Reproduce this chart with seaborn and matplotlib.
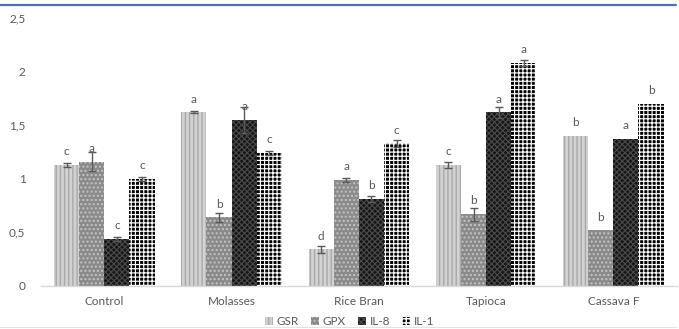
import matplotlib
matplotlib.use("Agg")
import matplotlib.pyplot as plt
import seaborn as sns
import pandas as pd
from matplotlib.patches import Patch
from matplotlib.lines import Line2D

categories = ["Control", "Molasses", "Rice Bran", "Tapioca", "Cassava F"]
series = ["GSR", "GPX", "IL-8", "IL-1"]
gsr = [1.13, 1.62, 0.34, 1.13, 1.40]
gpx = [1.16, 0.64, 0.99, 0.67, 0.52]
il8 = [0.44, 1.55, 0.81, 1.62, 1.37]
il1 = [1.00, 1.24, 1.33, 2.08, 1.70]
gsr_err = [0.02, 0.01, 0.03, 0.03, 0.0]
gpx_err = [0.09, 0.04, 0.02, 0.06, 0.0]
il8_err = [0.02, 0.12, 0.03, 0.05, 0.0]
il1_err = [0.02, 0.02, 0.03, 0.03, 0.0]
gsr_let = ["c", "a", "d", "c", "b"]
gpx_let = ["a", "b", "a", "b", "b"]
il8_let = ["c", "a", "b", "a", "a"]
il1_let = ["c", "c", "c", "a", "b"]
yticks = [0, 0.5, 1, 1.5, 2, 2.5]
ytick_labels = ["0", "0,5", "1", "1,5", "2", "2,5"]

values = [gsr, gpx, il8, il1]
errs = [gsr_err, gpx_err, il8_err, il1_err]
letters = [gsr_let, gpx_let, il8_let, il1_let]

rows = []
for s, vals in zip(series, values):
    for c, v in zip(categories, vals):
        rows.append({"cat": c, "series": s, "value": v})
df = pd.DataFrame(rows)

sns.set_theme(style="white")
plt.rcParams["font.family"] = ["Lato", "DejaVu Sans"]
plt.rcParams["hatch.linewidth"] = 1.0

styles = {
    "GSR": dict(fc="#d2d2d2", ec="#a9a9a9", hatch="||||", hlw=1.0),
    "GPX": dict(fc="#8a8a8a", ec="#c4c4c4", hatch="....", hlw=1.0),
    "IL-8": dict(fc="#161616", ec="#4a4a4a", hatch="xxxxxx", hlw=0.8),
    "IL-1": dict(fc="#000000", ec="#ffffff", hatch="++++", hlw=0.85),
}

fig = plt.figure(figsize=(6.79, 3.29), dpi=100)
ax = fig.add_axes([0.060, 0.131, 0.937, 0.814])

sns.barplot(data=df, x="cat", y="value", hue="series", order=categories,
            hue_order=series, width=0.79, ax=ax, legend=False,
            palette=["#d2d2d2"] * 4, errorbar=None)

txtc = "#595959"
for container, s, err, lets in zip(ax.containers, series, errs, letters):
    st = styles[s]
    xs, hs = [], []
    for p in container.patches:
        p.set_facecolor(st["fc"])
        p.set_edgecolor(st["ec"])
        p.set_hatch(st["hatch"])
        p.set_linewidth(0)
        try:
            p.set_hatch_linewidth(st["hlw"])
        except Exception:
            pass
        xs.append(p.get_x() + p.get_width() / 2)
        hs.append(p.get_height())
    ex = [x for x, e in zip(xs, err) if e > 0]
    eh = [h for h, e in zip(hs, err) if e > 0]
    ee = [e for e in err if e > 0]
    ax.errorbar(ex, eh, yerr=ee, fmt="none", ecolor="#595959",
                elinewidth=1.0, capsize=3, capthick=1.0, zorder=5)
    for x, h, l in zip(xs, hs, lets):
        ax.annotate(l, (x, h), xytext=(0, 9.5), textcoords="offset points",
                    ha="center", va="center", fontsize=8.5, color=txtc)

ax.set_ylim(0, 2.5)
ax.set_xlim(-0.5, 4.5)
ax.set_yticks(yticks)
ax.set_yticklabels(ytick_labels)
ax.set_xlabel("")
ax.set_ylabel("")
ax.tick_params(axis="y", length=0, pad=11, labelsize=8.5, labelcolor=txtc)
ax.tick_params(axis="x", length=0, pad=7, labelsize=8.5, labelcolor=txtc)
for side in ["left", "right", "top"]:
    ax.spines[side].set_visible(False)
ax.spines["bottom"].set_color("#d9d9d9")
ax.spines["bottom"].set_linewidth(1.0)
ax.grid(False)

handles = []
for s in series:
    st = styles[s]
    handles.append(Patch(facecolor=st["fc"], edgecolor=st["ec"], hatch=st["hatch"],
                         linewidth=0, label=s))
leg = fig.legend(handles=handles, loc="center", bbox_to_anchor=(0.515, 0.022),
                 ncol=4, frameon=False, fontsize=8.5, handlelength=0.7,
                 handleheight=0.7, columnspacing=1.0, handletextpad=0.3,
                 borderpad=0)
for t in leg.get_texts():
    t.set_color(txtc)

fig.add_artist(Line2D([0.0, 0.996], [0.985, 0.985], color="#5470b0", lw=1.6,
                      transform=fig.transFigure))
fig.add_artist(Line2D([0.0, 0.996], [0.006, 0.006], color="#e3e3e3", lw=0.8,
                      transform=fig.transFigure))

fig.savefig("out.png", dpi=100)
